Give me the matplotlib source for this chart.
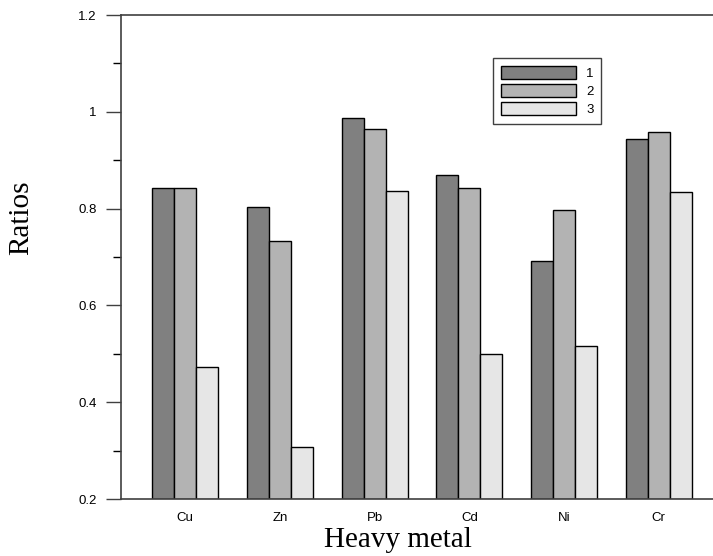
import numpy as np
import matplotlib.pyplot as plt
from matplotlib.patches import Patch
from matplotlib.ticker import MultipleLocator

metals = ['Cu', 'Zn', 'Pb', 'Cd', 'Ni', 'Cr']
series_names = ['1', '2', '3']
ratio_1 = [0.843, 0.803, 0.988, 0.869, 0.691, 0.944]
ratio_2 = [0.843, 0.733, 0.964, 0.842, 0.797, 0.958]
ratio_3 = [0.472, 0.308, 0.836, 0.500, 0.516, 0.834]

colors = ['#808080', '#b3b3b3', '#e6e6e6']
spine_col = '#404040'

fig = plt.figure(figsize=(7.13, 5.56), dpi=100)
ax = fig.add_axes([0.1704, 0.1025, 0.8296, 0.8705])

x = np.arange(len(metals))
w = 0.233
for i, vals in enumerate([ratio_1, ratio_2, ratio_3]):
    ax.bar(x + (i - 1) * w, np.array(vals) - 0.2, width=w, bottom=0.2,
           color=colors[i], edgecolor='black', linewidth=1.0, zorder=2)

ax.set_xlim(-0.673, 5.573)
ax.set_ylim(0.2, 1.2)
ax.set_xticks(x)
ax.set_xticklabels(metals, fontsize=9.5, family='Liberation Sans')
ax.tick_params(axis='x', length=0, pad=9)

ax.yaxis.set_minor_locator(MultipleLocator(0.1))
ax.set_yticks([0.2, 0.4, 0.6, 0.8, 1.0, 1.2])
ax.set_yticklabels(['0.2', '0.4', '0.6', '0.8', '1', '1.2'], fontsize=9.5,
                   family='Liberation Sans')
ax.tick_params(axis='y', which='major', direction='out', length=11,
               width=1.0, color=spine_col, pad=7)
ax.tick_params(axis='y', which='minor', direction='out', length=5.5,
               width=1.0, color='black')

for s in ['left', 'top', 'bottom']:
    ax.spines[s].set_color(spine_col)
    ax.spines[s].set_linewidth(1.2)
ax.spines['right'].set_visible(False)

# axis titles sit off-centre in the original
fig.text(398 / 713, 1 - 540 / 556, 'Heavy metal', fontsize=21,
         family='Liberation Serif', ha='center', va='center')
fig.text(21 / 713, 1 - 217.5 / 556, 'Ratios', fontsize=21,
         family='Liberation Serif', ha='center', va='center', rotation=90)

handles = [Patch(facecolor=c, edgecolor='black', linewidth=1.0) for c in colors]
leg = ax.legend(handles, series_names, loc='upper left',
                bbox_to_anchor=(0.628, 0.911),
                prop={'family': 'Liberation Sans', 'size': 9.5},
                handlelength=5.7, handleheight=1.14, labelspacing=0.3,
                handletextpad=0.75, borderpad=0.6, borderaxespad=0,
                fancybox=False, framealpha=1)
leg.get_frame().set_edgecolor(spine_col)
leg.get_frame().set_linewidth(1.0)

fig.savefig('out.png', dpi=100)
